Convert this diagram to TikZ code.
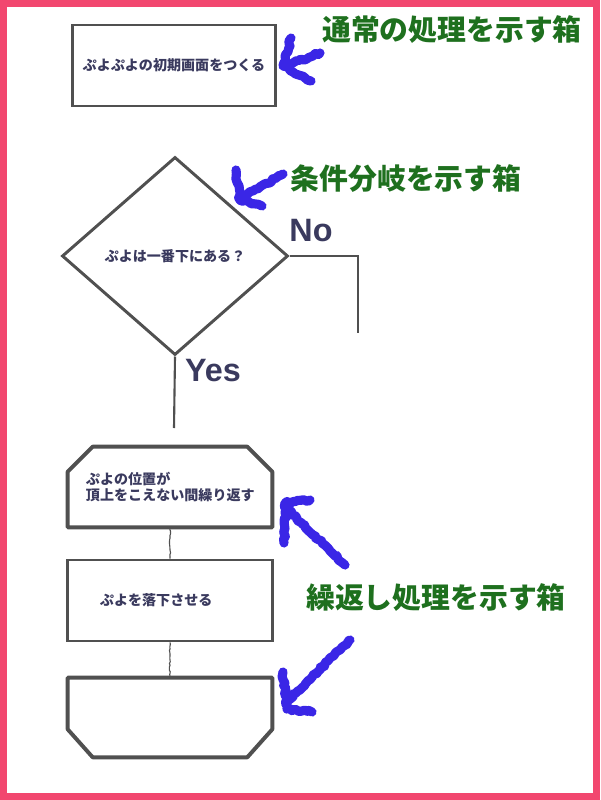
\documentclass[tikz,border=0pt]{standalone}
\usepackage{fontspec}
\setmainfont{Liberation Sans}
\newfontfamily\jpfont{Noto Sans CJK JP}
\usetikzlibrary{shapes.geometric,decorations.pathmorphing}
\definecolor{frame}{HTML}{F2476F}
\definecolor{ink}{HTML}{505050}
\definecolor{navy}{HTML}{3A3A5E}
\definecolor{note}{HTML}{1E701E}
\definecolor{pen}{HTML}{3A26E6}
\tikzset{
  box/.style={draw=ink, line width=2.1pt, minimum width=5.05cm, minimum height=2.025cm, inner sep=0pt, text=navy, font=\jpfont\bfseries\fontsize{10}{11.4}\selectfont},
  loopbox/.style={minimum width=5.1cm, minimum height=2cm, inner sep=0pt, text=navy, font=\jpfont\bfseries\fontsize{10}{11.4}\selectfont},
  loopline/.style={draw=ink, line width=2.8pt, line join=round},
  link/.style={draw=ink, line width=1.5pt},
  thinlink/.style={draw=ink, line width=0.8pt, decorate, decoration={random steps, segment length=1.5pt, amplitude=0.5pt}},
  branch/.style={font=\bfseries\fontsize{23}{23}\selectfont, text=navy},
  note/.style={font=\jpfont\bfseries\fontsize{20.5}{22}\selectfont, text=note},
  pen/.style={draw=pen, line width=6.5pt, line cap=round, line join=round, decorate, decoration={random steps, segment length=2pt, amplitude=0.9pt}}
}
\begin{document}
\begin{tikzpicture}[x=0.025cm, y=-0.025cm]
\useasboundingbox (0,0) rectangle (600,800);
\draw[frame, line width=5pt] (3.5,3.5) rectangle (596.5,796.5); % frame

\node[box] (init) at (174,65.5) {ぷよぷよの初期画面をつくる};
\node[box, shape=diamond, minimum width=5.65cm, minimum height=4.95cm] (check) at (175,256) {ぷよは一番下にある？};
\node[loopbox, text width=4.2cm, align=left] (loopA) at (170,487) {ぷよの位置が\\頂上をこえない間繰り返す};
\node[box, minimum width=5.1cm, text width=3.5cm, align=left] (fall) at (170,600.5) {ぷよを落下させる};
\node[loopbox, minimum height=1.975cm] (loopB) at (170,717.5) {};

\draw[loopline] ([xshift=0.625cm]loopA.north west) -- ([xshift=-0.625cm]loopA.north east)
  -- ([yshift=-0.625cm]loopA.north east) -- (loopA.south east) -- (loopA.south west)
  -- ([yshift=-0.625cm]loopA.north west) -- cycle; % loop start
\draw[loopline] (loopB.north west) -- (loopB.north east) -- ([yshift=0.7cm]loopB.south east)
  -- ([xshift=-0.625cm]loopB.south east) -- ([xshift=0.625cm]loopB.south west)
  -- ([yshift=0.7cm]loopB.south west) -- cycle; % loop end

\coordinate (noEnd) at (358,333);
\coordinate (yesEnd) at (174,428);
\draw[link] (check.east) -| (noEnd); % No
\draw[link] (check.south) -- (yesEnd); % Yes
\draw[thinlink] (loopA.south) -- (fall.north);
\draw[thinlink] (fall.south) -- (loopB.north);

\node[branch] (noLbl) at (311,231) {No};
\node[branch] (yesLbl) at (213,371) {Yes};

\node[note] (noteInit) at (452,30) {通常の処理を示す箱};
\node[note] (noteCheck) at (406,179) {条件分岐を示す箱};
\node[note] (noteLoop) at (436,598) {繰返し処理を示す箱};

\draw[pen] (320,53) -- (284,66); % to init
\draw[pen] (291,38) -- (283,66) -- (311,81);
\draw[pen] (283,174) -- (242,197); % to check
\draw[pen] (236,170) -- (240,200) -- (262,206);
\draw[pen] (345,565) -- (286,508); % to loop start
\draw[pen] (310,500) -- (285,503) -- (284,543);
\draw[pen] (350,640) -- (286,702); % to loop end
\draw[pen] (283,672) -- (287,709) -- (312,712);
\end{tikzpicture}
\end{document}
